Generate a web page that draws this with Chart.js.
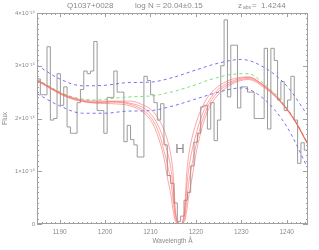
<!DOCTYPE html>
<html>
<head>
<meta charset="utf-8">
<script src="https://cdn.jsdelivr.net/npm/chart.js@4/dist/chart.umd.min.js"></script>
<style>
  html, body { margin: 0; padding: 0; background: #fff; }
  #wrap { width: 319px; height: 250px; }
</style>
</head>
<body>
<div id="wrap"><canvas id="chart" width="319" height="250"></canvas></div>
<script>
// --- DATA (flux in units of 1e-16) ---
const BIN_START = 1185.0;
const BIN_WIDTH = 0.736;
const fluxBins = [
  2.75, 2.45, 2.45, 3.36, 1.97, 2.00, 2.85, 2.25, 2.60, 1.84,
  1.72, 1.72, 2.30, 2.55, 2.90, 2.85, 2.90, 3.46, 2.15, 2.15,
  1.72, 2.40, 2.40, 2.90, 2.50, 2.50, 1.56, 1.87, 1.60, 1.50,
  1.27, 1.27, 2.80, 2.72, 2.45, 2.30, 1.97, 2.28, 1.50, 0.92,
  0.77, 0.40, 0.05, 0.15, 0.45, 0.60, 1.10, 1.55, 1.72, 2.22,
  2.25, 1.80, 2.30, 1.58, 1.97, 3.00, 3.87, 2.41, 3.39, 3.39,
  2.20, 2.60, 2.60, 2.50, 2.50, 2.00, 2.00, 2.00, 3.33, 1.80,
  3.33, 3.10, 2.35, 2.70, 2.15, 2.35, 2.80, 1.97, 1.15, 1.54,
  1.40
];

const modelWave = [
  1185.0, 1192.0, 1198.0, 1201.5, 1205.5, 1208.5, 1210.5, 1212.0, 1213.0, 1213.8,
  1214.5, 1215.0, 1215.5, 1216.5, 1217.5, 1218.0, 1218.5, 1219.2,
  1220.0, 1221.0, 1222.5, 1224.5, 1227.5, 1231.5, 1235.0, 1238.0, 1241.5, 1244.7
];
const continuum = [
  2.74, 2.43, 2.35, 2.38, 2.41, 2.42, 2.43, 2.45, 2.47, 2.49,
  2.50, 2.51, 2.52, 2.55, 2.57, 2.58, 2.60, 2.62,
  2.64, 2.67, 2.72, 2.77, 2.83, 2.85, 2.66, 2.42, 2.02, 1.52
];
const profileA = [
  2.73, 2.42, 2.33, 2.33, 2.33, 2.25, 2.14, 1.96, 1.78, 1.57,
  1.30, 0.95, 0.25, 0, 0.26, 0.98, 1.35, 1.65,
  1.90, 2.14, 2.39, 2.58, 2.73, 2.79, 2.63, 2.40, 2.01, 1.51
];
const profileB = [
  2.73, 2.41, 2.31, 2.32, 2.29, 2.20, 2.04, 1.81, 1.58, 1.34,
  1.05, 0.70, 0.18, 0, 0.18, 0.72, 1.09, 1.41,
  1.69, 1.98, 2.28, 2.52, 2.69, 2.78, 2.62, 2.39, 2.00, 1.51
];
const profileC = [
  2.72, 2.40, 2.30, 2.31, 2.27, 2.15, 1.97, 1.69, 1.38, 1.10,
  0.80, 0.45, 0.10, 0, 0.10, 0.46, 0.83, 1.15,
  1.48, 1.84, 2.20, 2.47, 2.66, 2.76, 2.61, 2.38, 2.00, 1.50
];
const profileD = [
  2.71, 2.39, 2.29, 2.28, 2.24, 2.11, 1.90, 1.57, 1.24, 0.85,
  0.55, 0.25, 0.05, 0, 0.05, 0.26, 0.57, 0.89,
  1.32, 1.71, 2.12, 2.41, 2.63, 2.74, 2.59, 2.37, 1.99, 1.50
];

const errWave = [1185.0, 1190, 1195, 1200, 1205, 1210, 1215, 1220, 1225, 1230, 1235, 1240, 1244.7];
const errUpper = [3.01, 2.75, 2.62, 2.63, 2.68, 2.69, 2.78, 2.92, 3.05, 3.12, 2.97, 2.62, 2.05];
const errLower = [2.47, 2.24, 2.10, 2.10, 2.14, 2.15, 2.24, 2.37, 2.50, 2.58, 2.37, 1.85, 1.05];

const X_MIN = 1185.0, X_MAX = 1244.7;
const Y_MIN = 0, Y_MAX = 4;

const TEXT_GREY = "#8a8a8a";
const AXIS_GREY = "#a0a0a0";
const FONT = "'Liberation Sans', Arial, sans-serif";

// --- HELPERS ---
const pair = (xs, ys) => xs.map((x, i) => ({ x, y: ys[i] }));

function histogramPoints() {
  const pts = fluxBins.map((v, i) => ({ x: BIN_START + i * BIN_WIDTH, y: v }));
  pts.push({ x: BIN_START + fluxBins.length * BIN_WIDTH, y: fluxBins[fluxBins.length - 1] });
  return pts;
}

const redStyle = {
  borderColor: "rgba(250, 95, 95, 0.55)",
  borderWidth: 1,
  pointRadius: 0,
  cubicInterpolationMode: "monotone",
  fill: false,
};

const dashed = (color) => ({
  borderColor: color,
  borderWidth: 1,
  borderDash: [3, 3],
  pointRadius: 0,
  cubicInterpolationMode: "monotone",
});

// --- FRAME, INWARD TICKS & LABELS ---
const framePlugin = {
  id: "idlFrame",
  afterDraw(chart) {
    const { ctx, chartArea: a, scales: { x, y } } = chart;
    ctx.save();
    ctx.strokeStyle = AXIS_GREY;
    ctx.lineWidth = 1;
    ctx.strokeRect(Math.round(a.left) + 0.5, Math.round(a.top) + 0.5,
      Math.round(a.right - a.left) - 1, Math.round(a.bottom - a.top) - 1);

    ctx.beginPath();
    for (let w = Math.ceil(X_MIN); w <= X_MAX; w++) {
      const px = Math.round(x.getPixelForValue(w)) + 0.5;
      const len = w % 10 === 0 ? 4 : 2;
      ctx.moveTo(px, a.bottom); ctx.lineTo(px, a.bottom - len);
      ctx.moveTo(px, a.top); ctx.lineTo(px, a.top + len);
    }
    for (let k = 0; k <= 40; k++) {
      const py = Math.round(y.getPixelForValue(k / 10)) + 0.5;
      const len = k % 10 === 0 ? 5 : 2;
      ctx.moveTo(a.left, py); ctx.lineTo(a.left + len, py);
      ctx.moveTo(a.right, py); ctx.lineTo(a.right - len, py);
    }
    ctx.stroke();

    // header
    ctx.fillStyle = TEXT_GREY;
    ctx.textBaseline = "middle";
    ctx.textAlign = "left";
    ctx.font = `8px ${FONT}`;
    ctx.fillText("Q1037+0028", 67, 6);
    ctx.fillText("log N = 20.04±0.15", 135, 6);
    ctx.fillText("z", 238, 6);
    ctx.font = `5px ${FONT}`;
    ctx.fillText("abs", 243, 8);
    ctx.font = `8px ${FONT}`;
    ctx.fillText("=  1.4244", 252, 6);

    // line label
    ctx.textAlign = "center";
    ctx.font = `13px ${FONT}`;
    ctx.fillText("H", 180, 149);
    ctx.restore();
  }
};

// --- CHART ---
document.addEventListener("DOMContentLoaded", () => {
  const canvas = document.getElementById("chart");

  new Chart(canvas, {
    type: "line",
    data: {
      datasets: [
        { ...redStyle, data: pair(modelWave, profileA) },
        { ...redStyle, data: pair(modelWave, profileB) },
        { ...redStyle, data: pair(modelWave, profileC) },
        { ...redStyle, data: pair(modelWave, profileD) },
        { ...dashed("rgb(120, 225, 120)"), data: pair(modelWave, continuum) },
        { ...dashed("rgb(115, 115, 240)"), data: pair(errWave, errUpper) },
        { ...dashed("rgb(115, 115, 240)"), data: pair(errWave, errLower) },
        {
          data: histogramPoints(),
          borderColor: "#9a9a9a",
          borderWidth: 1,
          pointRadius: 0,
          stepped: "before",
        },
      ]
    },
    options: {
      responsive: false,
      animation: false,
      devicePixelRatio: 1,
      layout: { padding: { top: 13, right: 11, left: 0, bottom: 0 } },
      plugins: { legend: { display: false }, tooltip: { enabled: false } },
      scales: {
        x: {
          type: "linear",
          min: X_MIN,
          max: X_MAX,
          grid: { display: false, drawTicks: false },
          border: { display: false },
          ticks: {
            stepSize: 10,
            includeBounds: false,
            autoSkip: false,
            maxRotation: 0,
            padding: 4,
            color: TEXT_GREY,
            font: { family: FONT, size: 6.5 },
            callback: (v) => String(v),
          },
          title: {
            display: true,
            text: "Wavelength Å",
            color: TEXT_GREY,
            font: { family: FONT, size: 6.5 },
            padding: { top: 0, bottom: 5 },
          },
          afterFit: (scale) => { scale.height = 26; },
        },
        y: {
          type: "linear",
          min: Y_MIN,
          max: Y_MAX,
          grid: { display: false, drawTicks: false },
          border: { display: false },
          ticks: {
            stepSize: 1,
            padding: 2,
            color: TEXT_GREY,
            font: { family: FONT, size: 6 },
            callback: (v) => v === 0 ? "0" : `${v}×10⁻¹⁶`,
          },
          title: {
            display: true,
            text: "Flux",
            color: TEXT_GREY,
            font: { family: FONT, size: 7 },
            padding: { top: 1, bottom: 0 },
          },
          afterFit: (scale) => { scale.width = 37; },
        },
      },
    },
    plugins: [framePlugin],
  });
});
</script>
</body>
</html>
